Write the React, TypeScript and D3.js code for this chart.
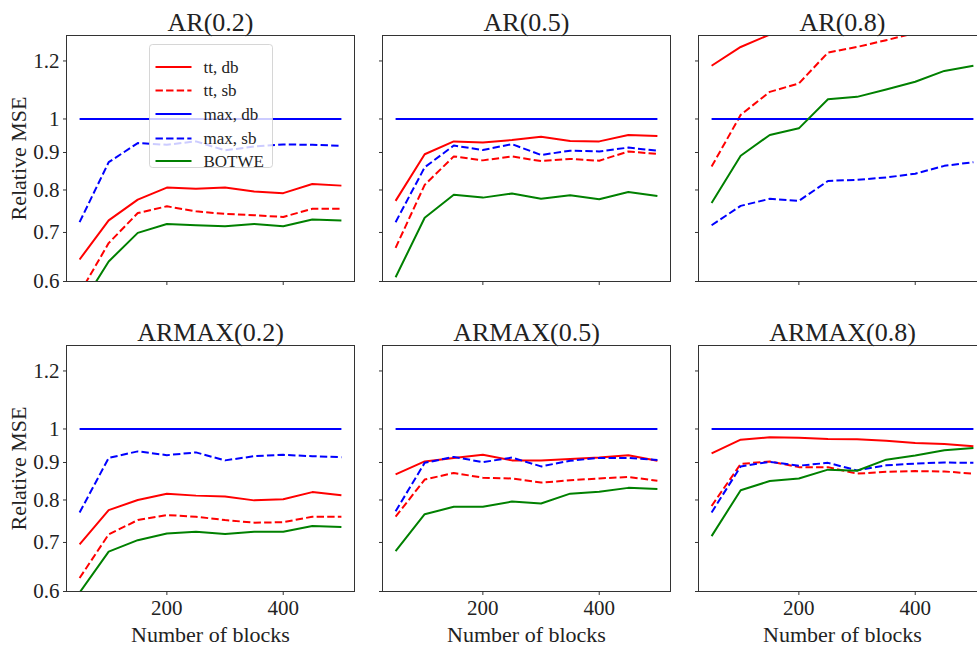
import React from 'react';
import * as d3 from 'd3';

const blocks = [50, 100, 150, 200, 250, 300, 350, 400, 450, 500];
const panelTitles = ['AR(0.2)', 'AR(0.5)', 'AR(0.8)', 'ARMAX(0.2)', 'ARMAX(0.5)', 'ARMAX(0.8)'];
const seriesNames = ['tt, db', 'tt, sb', 'max, db', 'max, sb', 'BOTWE'];
const seriesColors = ['#ff0000', '#ff0000', '#0000ff', '#0000ff', '#008000'];
const seriesDashed = [false, true, false, true, false];
const yTicks = [0.6, 0.7, 0.8, 0.9, 1, 1.2];
const yTickLabels = ['0.6', '0.7', '0.8', '0.9', '1', '1.2'];
const xTicks = [200, 400];
const xTickLabels = ['200', '400'];

// AR(0.2)
const ar02_ttdb = [0.643, 0.727, 0.776, 0.806, 0.803, 0.806, 0.796, 0.792, 0.815, 0.811];
const ar02_ttsb = [0.578, 0.677, 0.744, 0.76, 0.748, 0.742, 0.739, 0.735, 0.754, 0.754];
const ar02_maxdb = [1, 1, 1, 1, 1, 1, 1, 1, 1, 1];
const ar02_maxsb = [0.723, 0.873, 0.927, 0.922, 0.932, 0.906, 0.917, 0.923, 0.922, 0.919];
const ar02_botwe = [0.552, 0.639, 0.699, 0.719, 0.716, 0.714, 0.719, 0.714, 0.729, 0.727];
// AR(0.5)
const ar05_ttdb = [0.773, 0.895, 0.932, 0.929, 0.936, 0.946, 0.933, 0.932, 0.951, 0.948];
const ar05_ttsb = [0.667, 0.813, 0.889, 0.878, 0.889, 0.876, 0.882, 0.877, 0.903, 0.896];
const ar05_maxdb = [1, 1, 1, 1, 1, 1, 1, 1, 1, 1];
const ar05_maxsb = [0.723, 0.859, 0.92, 0.907, 0.924, 0.893, 0.905, 0.903, 0.914, 0.905];
const ar05_botwe = [0.608, 0.733, 0.788, 0.781, 0.791, 0.778, 0.787, 0.777, 0.795, 0.785];
// AR(0.8)
const ar08_ttdb = [1.182, 1.254, 1.304, 1.33, 1.36, 1.38, 1.4, 1.42, 1.44, 1.46];
const ar08_ttsb = [0.861, 1.013, 1.089, 1.118, 1.232, 1.254, 1.281, 1.31, 1.33, 1.35];
const ar08_maxdb = [1, 1, 1, 1, 1, 1, 1, 1, 1, 1];
const ar08_maxsb = [0.716, 0.761, 0.778, 0.773, 0.823, 0.826, 0.832, 0.842, 0.863, 0.873];
const ar08_botwe = [0.768, 0.891, 0.951, 0.971, 1.064, 1.072, 1.097, 1.124, 1.163, 1.182];
// ARMAX(0.2)
const armax02_ttdb = [0.696, 0.775, 0.8, 0.816, 0.811, 0.809, 0.799, 0.802, 0.82, 0.812];
const armax02_ttsb = [0.626, 0.718, 0.751, 0.763, 0.759, 0.751, 0.745, 0.746, 0.759, 0.759];
const armax02_maxdb = [1, 1, 1, 1, 1, 1, 1, 1, 1, 1];
const armax02_maxsb = [0.769, 0.913, 0.932, 0.921, 0.929, 0.906, 0.918, 0.922, 0.918, 0.915];
const armax02_botwe = [0.598, 0.68, 0.705, 0.72, 0.724, 0.719, 0.724, 0.724, 0.737, 0.735];
// ARMAX(0.5)
const armax05_ttdb = [0.867, 0.903, 0.913, 0.922, 0.906, 0.906, 0.91, 0.914, 0.921, 0.905];
const armax05_ttsb = [0.759, 0.853, 0.871, 0.858, 0.856, 0.845, 0.851, 0.856, 0.86, 0.85];
const armax05_maxdb = [1, 1, 1, 1, 1, 1, 1, 1, 1, 1];
const armax05_maxsb = [0.772, 0.899, 0.916, 0.901, 0.914, 0.889, 0.905, 0.913, 0.913, 0.907];
const armax05_botwe = [0.681, 0.765, 0.783, 0.783, 0.796, 0.791, 0.816, 0.821, 0.831, 0.828];
// ARMAX(0.8)
const armax08_ttdb = [0.926, 0.967, 0.974, 0.973, 0.969, 0.968, 0.964, 0.957, 0.954, 0.947];
const armax08_ttsb = [0.785, 0.896, 0.903, 0.887, 0.887, 0.869, 0.874, 0.876, 0.875, 0.869];
const armax08_maxdb = [1, 1, 1, 1, 1, 1, 1, 1, 1, 1];
const armax08_maxsb = [0.769, 0.889, 0.902, 0.891, 0.899, 0.878, 0.892, 0.897, 0.9, 0.899];
const armax08_botwe = [0.714, 0.825, 0.849, 0.856, 0.88, 0.877, 0.908, 0.92, 0.935, 0.942];

const panelData = [
  [ar02_ttdb, ar02_ttsb, ar02_maxdb, ar02_maxsb, ar02_botwe],
  [ar05_ttdb, ar05_ttsb, ar05_maxdb, ar05_maxsb, ar05_botwe],
  [ar08_ttdb, ar08_ttsb, ar08_maxdb, ar08_maxsb, ar08_botwe],
  [armax02_ttdb, armax02_ttsb, armax02_maxdb, armax02_maxsb, armax02_botwe],
  [armax05_ttdb, armax05_ttsb, armax05_maxdb, armax05_maxsb, armax05_botwe],
  [armax08_ttdb, armax08_ttsb, armax08_maxdb, armax08_maxsb, armax08_botwe],
];

const W = 977;
const H = 645;
const PW = 288;
const PH = 246;
const lefts = [66.5, 382.5, 698.5];
const tops = [35.5, 345.5];
const FONT = 'Liberation Serif, DejaVu Serif, serif';
const DASH = '7.4,3.2';
const LW = 2;
const TXT = { fontFamily: FONT } as React.CSSProperties;

function Panel({ idx }: { idx: number }) {
  const col = idx % 3;
  const row = Math.floor(idx / 3);
  const x0 = lefts[col];
  const y0 = tops[row];
  const x = d3.scaleLinear().domain([27.5, 522.5]).range([0, PW]);
  const y = d3.scaleLog().domain([0.6, 1.3]).range([PH, 0]);
  const line = d3
    .line<number>()
    .x((_, i) => x(blocks[i]))
    .y((d) => y(d));
  const clipId = `clip-${idx}`;
  const series = panelData[idx];
  return (
    <g transform={`translate(${x0},${y0})`}>
      <defs>
        <clipPath id={clipId}>
          <rect x={0} y={0} width={PW} height={PH} />
        </clipPath>
      </defs>
      <g clipPath={`url(#${clipId})`}>
        {series.map((vals, s) => (
          <path
            key={s}
            d={line(vals) || ''}
            fill="none"
            stroke={seriesColors[s]}
            strokeWidth={LW}
            strokeDasharray={seriesDashed[s] ? DASH : undefined}
            strokeLinejoin="round"
          />
        ))}
      </g>
      <rect x={0} y={0} width={PW} height={PH} fill="none" stroke="#333" strokeWidth={1} />
      {yTicks.map((t, i) => (
        <g key={`y${i}`}>
          <line x1={-3.5} x2={0} y1={y(t)} y2={y(t)} stroke="#333" strokeWidth={1} />
          {col === 0 && (
            <text
              x={-7}
              y={y(t)}
              dy="0.33em"
              textAnchor="end"
              style={TXT}
              fontSize={21}
              fill="#222"
            >
              {yTickLabels[i]}
            </text>
          )}
        </g>
      ))}
      {xTicks.map((t, i) => (
        <g key={`x${i}`}>
          <line x1={x(t)} x2={x(t)} y1={PH} y2={PH + 3.5} stroke="#333" strokeWidth={1} />
          {row === 1 && (
            <text
              x={x(t)}
              y={PH + 23.5}
              textAnchor="middle"
              style={TXT}
              fontSize={21}
              fill="#222"
            >
              {xTickLabels[i]}
            </text>
          )}
        </g>
      ))}
      <text
        x={PW / 2}
        y={-4.5}
        textAnchor="middle"
        style={TXT}
        fontSize={26}
        fill="#222"
      >
        {panelTitles[idx]}
      </text>
      {row === 1 && (
        <text
          x={PW / 2}
          y={PH + 50}
          textAnchor="middle"
          style={TXT}
          fontSize={22}
          fill="#222"
        >
          Number of blocks
        </text>
      )}
      {col === 0 && (
        <text
          transform={`translate(${-40.5},${PH / 2}) rotate(-90)`}
          textAnchor="middle"
          style={TXT}
          fontSize={22}
          fill="#222"
        >
          Relative MSE
        </text>
      )}
      {idx === 0 && <Legend />}
    </g>
  );
}

function Legend() {
  const lx = 83;
  const ly = 9;
  const lw = 123;
  const lh = 123;
  const rowY = [22.5, 46, 69.5, 94, 116.5];
  return (
    <g transform={`translate(${lx},${ly})`}>
      <rect
        x={0}
        y={0}
        width={lw}
        height={lh}
        rx={3}
        ry={3}
        fill="#ffffff"
        fillOpacity={0.8}
        stroke="#cccccc"
        strokeOpacity={0.8}
        strokeWidth={1}
      />
      {seriesNames.map((n, i) => (
        <g key={i}>
          <line
            x1={6}
            x2={42}
            y1={rowY[i]}
            y2={rowY[i]}
            stroke={seriesColors[i]}
            strokeWidth={LW}
            strokeDasharray={seriesDashed[i] ? DASH : undefined}
          />
          <text
            x={54}
            y={rowY[i]}
            dy="0.33em"
            style={TXT}
            fontSize={17}
            fill="#222"
          >
            {n}
          </text>
        </g>
      ))}
    </g>
  );
}

export default function App() {
  return (
    <div style={{ position: 'absolute', left: 0, top: 0 }}>
      <svg width={W} height={H} viewBox={`0 0 ${W} ${H}`} style={{ display: 'block', background: '#fff' }}>
        <rect x={0} y={0} width={W} height={H} fill="#fff" />
        {panelTitles.map((_, i) => (
          <Panel key={i} idx={i} />
        ))}
      </svg>
    </div>
  );
}
